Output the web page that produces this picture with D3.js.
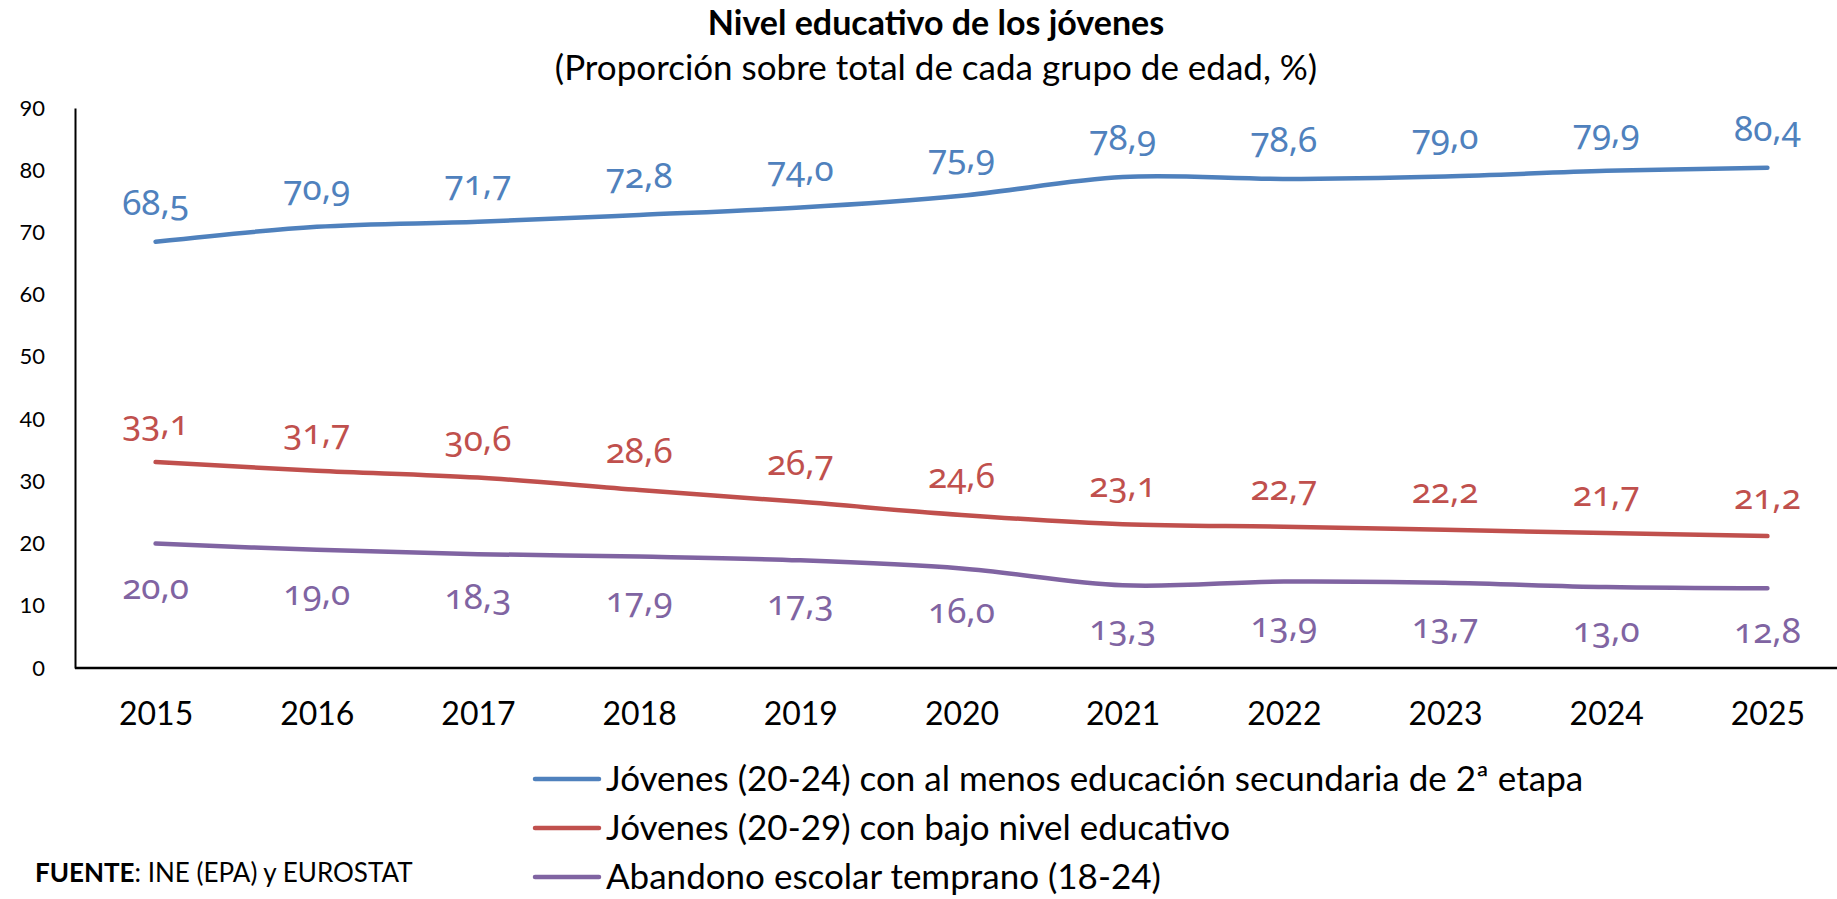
<!DOCTYPE html>
<html>
<head>
<meta charset="utf-8">
<script src="https://cdn.jsdelivr.net/npm/d3@7"></script>
<style>
  body { margin: 0; background: #fff; }
  text { font-family: Lato, "Open Sans", sans-serif; }
</style>
</head>
<body>
<div id="chart"></div>
<script>
const years = ["2015","2016","2017","2018","2019","2020","2021","2022","2023","2024","2025"];
const secundaria = [68.5, 70.9, 71.7, 72.8, 74.0, 75.9, 78.9, 78.6, 79.0, 79.9, 80.4];
const bajoNivel = [33.1, 31.7, 30.6, 28.6, 26.7, 24.6, 23.1, 22.7, 22.2, 21.7, 21.2];
const abandono = [20.0, 19.0, 18.3, 17.9, 17.3, 16.0, 13.3, 13.9, 13.7, 13.0, 12.8];
const seriesNames = [
    "Jóvenes (20-24) con al menos educación secundaria de 2ª etapa",
    "Jóvenes (20-29) con bajo nivel educativo",
    "Abandono escolar temprano (18-24)"
];
const yTicks = [0, 10, 20, 30, 40, 50, 60, 70, 80, 90];

const width = 1837;
const height = 899;

const svg = d3.select("#chart")
    .append("svg")
    .attr("width", width)
    .attr("height", height);

const x = d3.scalePoint()
    .domain(years)
    .range([75, 1848])
    .padding(0.5);

const y = d3.scaleLinear()
    .domain([0, 90])
    .range([668, 108]);

// titulo
svg.append("text")
    .attr("x", 936)
    .attr("y", 35)
    .attr("text-anchor", "middle")
    .style("font-size", "34px")
    .style("font-weight", "bold")
    .text("Nivel educativo de los jóvenes");

svg.append("text")
    .attr("x", 936)
    .attr("y", 80)
    .attr("text-anchor", "middle")
    .style("font-size", "35px")
    .text("(Proporción sobre total de cada grupo de edad, %)");

// ejes
const yAxis = svg.append("g")
    .attr("transform", "translate(75,0)")
    .call(d3.axisLeft(y).tickValues(yTicks).tickSize(0).tickPadding(30));
yAxis.select(".domain").attr("stroke", "#000").attr("stroke-width", 2);
yAxis.selectAll("text").style("font-size", "22px").style("font-family", "Lato, sans-serif").attr("fill", "#000");

const xAxis = svg.append("g")
    .attr("transform", "translate(0,668)")
    .call(d3.axisBottom(x).tickSize(0).tickPadding(34));
xAxis.select(".domain").attr("stroke", "#000").attr("stroke-width", 2.5)
    .attr("d", "M75,0H1848");
xAxis.selectAll("text").style("font-size", "32px").style("font-family", "Lato, sans-serif").attr("fill", "#000");

const series = [
    {name: seriesNames[0], values: secundaria, color: "#4F81BD", dy: -27},
    {name: seriesNames[1], values: bajoNivel, color: "#C0504D", dy: -27},
    {name: seriesNames[2], values: abandono, color: "#8064A2", dy: 55}
];

const line = d3.line()
    .x((d, i) => x(years[i]))
    .y(d => y(d))
    .curve(d3.curveCatmullRom.alpha(0.5));

series.forEach(s => {
    svg.append("path")
        .datum(s.values)
        .attr("d", line)
        .attr("fill", "none")
        .attr("stroke", s.color)
        .attr("stroke-width", 4.5)
        .attr("stroke-linecap", "round");

    svg.selectAll(null)
        .data(s.values)
        .enter()
        .append("text")
        .attr("x", (d, i) => x(years[i]))
        .attr("y", d => y(d) + s.dy)
        .attr("text-anchor", "middle")
        .attr("fill", s.color)
        .style("font-family", "'Noto Sans', Lato, sans-serif")
        .style("font-size", "35px")
        .style("font-variant-numeric", "oldstyle-nums")
        .text(d => d.toFixed(1).replace(".", ","));
});

// leyenda
const legend = svg.append("g");
series.forEach((s, i) => {
    const ly = 779 + i * 49;
    legend.append("line")
        .attr("x1", 535)
        .attr("x2", 599)
        .attr("y1", ly)
        .attr("y2", ly)
        .attr("stroke", s.color)
        .attr("stroke-width", 4.5)
        .attr("stroke-linecap", "round");
    legend.append("text")
        .attr("x", 606)
        .attr("y", ly + 12)
        .style("font-size", "35px")
        .text(s.name);
});

// fuente
const fuente = svg.append("text")
    .attr("x", 35)
    .attr("y", 882)
    .style("font-size", "26px");
fuente.append("tspan").style("font-weight", "bold").text("FUENTE");
fuente.append("tspan").text(": INE (EPA) y EUROSTAT");
</script>
</body>
</html>
